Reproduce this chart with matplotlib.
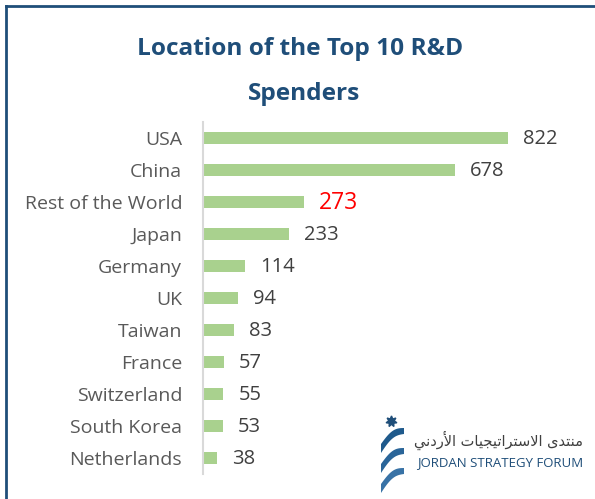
import matplotlib
matplotlib.use("Agg")
import matplotlib.pyplot as plt
from matplotlib.patches import Polygon
from matplotlib.lines import Line2D
import numpy as np

categories = ["USA", "China", "Rest of the World", "Japan", "Germany", "UK",
              "Taiwan", "France", "Switzerland", "South Korea", "Netherlands"]
values = [822, 678, 273, 233, 114, 94, 83, 57, 55, 53, 38]
highlight = "Rest of the World"
title_lines = ["Location of the Top 10 R&D", "Spenders"]

W, H = 595, 499
fig = plt.figure(figsize=(W / 100, H / 100), dpi=100)
fig.patch.set_facecolor("white")

FONT = ["Open Sans", "DejaVu Sans"]
BLUE = "#1f4e79"

# frame lines (top & left)
fig.add_artist(Line2D([6 / W, 6 / W], [0, 1 - 6 / H], transform=fig.transFigure, color=BLUE, lw=2))
fig.add_artist(Line2D([6 / W, 1], [1 - 6 / H, 1 - 6 / H], transform=fig.transFigure, color=BLUE, lw=2))

# title
fig.text(300 / W, 1 - 49 / H, title_lines[0], ha="center", va="center", fontsize=17.6,
         fontweight="bold", color=BLUE, family=FONT)
fig.text(304 / W, 1 - 94 / H, title_lines[1], ha="center", va="center", fontsize=17.6,
         fontweight="bold", color=BLUE, family=FONT)

# axes
ax_left, ax_right = 203, 590
ax_top, ax_bot = 122, 474
ax = fig.add_axes([ax_left / W, 1 - ax_bot / H, (ax_right - ax_left) / W, (ax_bot - ax_top) / H])
px_per_unit = (508 - 203) / 822
ax.set_xlim(0, (ax_right - ax_left) / px_per_unit)
ax.set_ylim(len(categories) - 0.5, -0.5)
y = np.arange(len(categories))
ax.barh(y, values, height=0.375, color="#a9d18e", edgecolor="none")
for yi, v, c in zip(y, values, categories):
    if c == highlight:
        ax.text(v + 15 / px_per_unit, yi + 0.03, str(v), va="center", ha="left", fontsize=16.5,
                color="#ff0000", family=FONT)
    else:
        ax.text(v + 15 / px_per_unit, yi + 0.03, str(v), va="center", ha="left", fontsize=14.5,
                color="#404040", family=FONT)
ax.set_yticks(y)
ax.set_yticklabels(categories, fontsize=14, color="#595959", family=FONT)
ax.tick_params(axis="y", length=0, pad=15)
ax.set_xticks([])
for s in ["top", "right", "bottom"]:
    ax.spines[s].set_visible(False)
ax.spines["left"].set_color("#d9d9d9")
ax.spines["left"].set_linewidth(1.5)
ax.patch.set_alpha(0)

# logo (decoration)
lax = fig.add_axes([0, 0, 1, 1])
lax.set_xlim(0, W)
lax.set_ylim(H, 0)
lax.axis("off")
shades = ["#1f5a8c", "#2a6599", "#3872a6"]
t = np.linspace(0, 1, 24)
for i, col in enumerate(shades):
    y0 = 428 + i * 20
    xs_top = 381 + 23 * t
    ys_top = y0 + 16 - 16 * t - 5 * np.sin(np.pi * t)
    xs_bot = xs_top[::-1]
    ys_bot = (ys_top + 9 - 3 * t)[::-1]
    poly = Polygon(np.column_stack([np.r_[xs_top, xs_bot], np.r_[ys_top, ys_bot]]),
                   closed=True, color=col, lw=0)
    lax.add_patch(poly)
lax.plot([391], [421], marker=(7, 1, 0), markersize=8, color=BLUE)

arabic = ("\uFEF2\uFEE7\uFEA9\uFEAD\uFEF7\uFE8D "
          "\uFE95\uFE8E\uFEF4\uFEA0\uFEF4\uFE97\uFE8D\uFEAE\uFE98\uFEB3\uFEFB\uFE8D "
          "\uFEEF\uFEAA\uFE98\uFEE8\uFEE3")
lax.text(583, 440, arabic, ha="right", va="center", fontsize=10.5, color="#404040",
         family=["DejaVu Sans"])
lax.text(417, 463, "JORDAN STRATEGY FORUM", ha="left", va="center", fontsize=9.5,
         color=BLUE, family=FONT)

fig.savefig("out.png", dpi=100)
